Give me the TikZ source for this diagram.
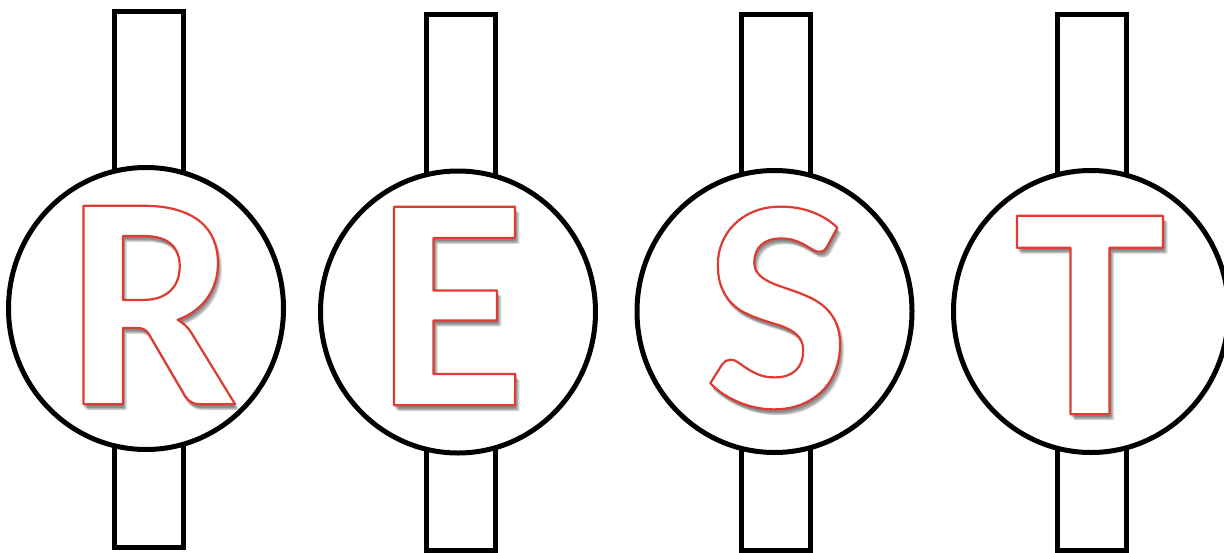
\documentclass[tikz,border=0pt]{standalone}
\usepackage{fontspec}
\usetikzlibrary{calc,shapes.geometric}
\newfontfamily\calib{Carlito}
\newcommand\outltext[1]{\special{pdf:code 2 Tr 2.2 w 1 j 0.87 0.23 0.2 RG}#1\special{pdf:code 0 Tr}}
\tikzset{
  bar/.style={draw=black, line width=5pt, fill=white, inner sep=0pt, minimum width=69pt, minimum height=536pt},
  ring/.style={ellipse, draw=black, line width=5pt, fill=white, inner sep=0pt, minimum width=275pt, minimum height=282pt},
  letter/.style={font=\calib\bfseries\fontsize{306}{306}\selectfont, text=white, inner sep=0pt},
  lshadow/.style={font=\calib\bfseries\fontsize{306}{306}\selectfont, text=black!70, opacity=0.16, inner sep=0pt}
}
\begin{document}
\begin{tikzpicture}[x=1pt,y=-1pt]
\useasboundingbox (0,0) rectangle (1224,552);
% bars
\node[bar] (b1) at (148.5,279.5) {};
\node[bar] (b2) at (461,282) {};
\node[bar] (b3) at (775.5,282) {};
\node[bar] (b4) at (1091.5,282) {};
% circles
\node[ring] (c1) at (146,308.5) {};
\node[ring] (c2) at (458,312) {};
\node[ring] (c3) at (774.5,311.5) {};
\node[ring] (c4) at (1091,311.5) {};
% shadows
\foreach \dx/\dy in {2/3,3/4,4/5,5/6,3/6,1/4}{
  \node[lshadow] at ($(152,305)+(\dx,\dy)$) {R};
  \node[lshadow] at ($(451,306)+(\dx,\dy)$) {E};
  \node[lshadow] at ($(777,308)+(\dx,\dy)$) {S};
  \node[lshadow] at ($(1090,315)+(\dx,\dy)$) {T};
}
% letters
\node[letter] (lR) at (152,305) {\outltext{R}};
\node[letter] (lE) at (451,306) {\outltext{E}};
\node[letter] (lS) at (777,308) {\outltext{S}};
\node[letter] (lT) at (1090,315) {\outltext{T}};
\end{tikzpicture}
\end{document}
